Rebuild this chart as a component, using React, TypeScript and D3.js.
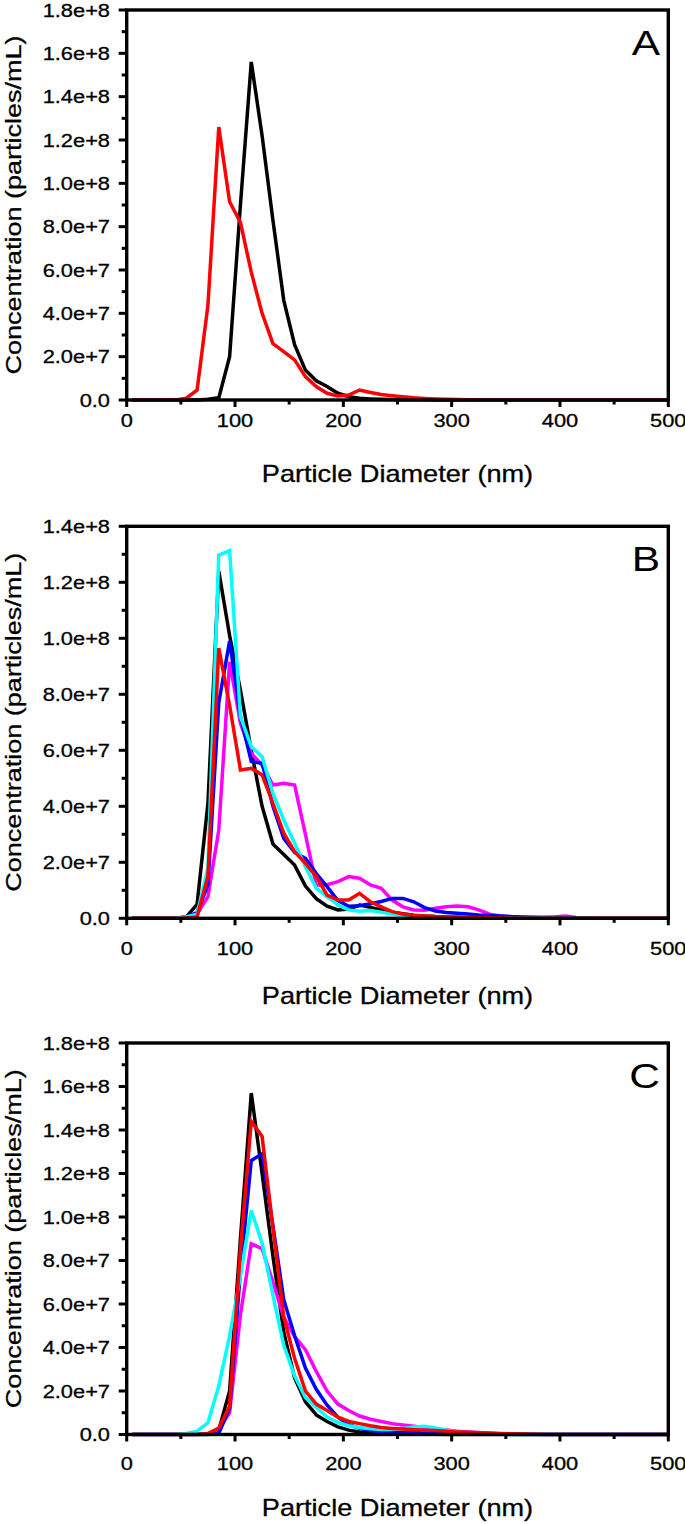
import React from 'react';
import * as d3 from 'd3';

// particle diameter bins (nm)
const bins = [5, 15, 25, 35, 45, 55, 65, 75, 85, 95, 105, 115, 125, 135, 145, 155, 165, 175, 185, 195, 205, 215, 225, 235, 245, 255, 265, 275, 285, 295, 305, 315, 325, 335, 345, 355, 365, 375, 385, 395, 405, 415, 425, 435, 445, 455, 465, 475, 485, 495, 505];

// concentrations in millions of particles/mL
const aBlack = [0, 0, 0, 0, 0, 0, 0, 0.3, 1, 20, 90, 156, 122, 83, 46, 25.5, 13.8, 8.9, 6.2, 3.1, 1.5, 0.8, 0.5, 0.3, 0.2, 0.1, 0.1, 0.1, 0.05, 0, 0, 0, 0, 0, 0, 0, 0, 0, 0, 0, 0, 0, 0, 0, 0, 0, 0, 0, 0, 0, 0];
const aRed = [0, 0, 0, 0, 0, 0.8, 4.6, 43.8, 126, 91.5, 82, 59, 40, 26, 22.3, 18.5, 10.8, 6.2, 3.1, 1.8, 2.3, 4.6, 3.5, 2.5, 2.0, 1.5, 1.0, 0.7, 0.5, 0.3, 0.2, 0.1, 0, 0, 0, 0, 0, 0, 0, 0, 0, 0, 0, 0, 0, 0, 0, 0, 0, 0, 0];

const bBlack = [0, 0, 0, 0, 0, 0.5, 5, 41, 124, 101, 81.5, 60, 40, 26.5, 22.8, 19, 11.5, 7, 4.3, 3, 3.3, 4.7, 3.9, 3, 2.2, 1.6, 1.1, 0.8, 0.6, 0.5, 0.4, 0.3, 0.2, 0.1, 0, 0, 0, 0, 0, 0, 0, 0, 0, 0, 0, 0, 0, 0, 0, 0, 0];
const bMagenta = [0, 0, 0, 0, 0, 0.3, 1.5, 7.7, 31.5, 91.6, 69.6, 58.9, 54.7, 47.6, 48.2, 47.6, 30, 11.8, 12, 13.1, 14.9, 14.3, 11.9, 10.7, 6.5, 4.1, 3, 2.9, 3.6, 4.1, 4.4, 4.1, 3, 1.5, 0.8, 0.5, 0.3, 0.3, 0.3, 0.5, 0.8, 0.3, 0.1, 0, 0, 0, 0, 0, 0, 0, 0];
const bBlue = [0, 0, 0, 0, 0, 0.5, 2, 12, 77, 99, 72, 56, 55.4, 40, 28.5, 23.5, 21.4, 16, 11.3, 6.3, 4.3, 4.5, 5.2, 6, 7.1, 7.1, 5.9, 3.8, 2.6, 2.1, 1.8, 1.5, 1.2, 1.0, 0.8, 0.6, 0.5, 0.4, 0.3, 0.3, 0.2, 0.2, 0.1, 0, 0, 0, 0, 0, 0, 0, 0];
const bCyan = [0, 0, 0, 0, 0, 0.5, 1.5, 18, 129.7, 131.3, 72, 61.3, 57.7, 44.6, 35.1, 26.8, 18.4, 10.7, 7.7, 4.75, 3, 2.5, 2.8, 2.2, 1.5, 1.0, 0.7, 0.5, 0.4, 0.3, 0.2, 0.1, 0, 0, 0, 0, 0, 0, 0, 0, 0, 0, 0, 0, 0, 0, 0, 0, 0, 0, 0];
const bRed = [0, 0, 0, 0, 0, 0, 0.5, 15, 96.5, 76, 53, 53.6, 51.2, 41, 30.4, 23.8, 19.6, 14.9, 8.3, 6.5, 6.5, 8.9, 5.9, 4.1, 2.4, 1.5, 1.0, 0.8, 0.6, 0.5, 0.4, 0.3, 0.2, 0.2, 0.1, 0, 0, 0, 0, 0, 0, 0, 0, 0, 0, 0, 0, 0, 0, 0, 0];

const cBlack = [0, 0, 0, 0, 0, 0, 0, 0, 2, 20, 90, 157, 120, 82, 47, 26, 15, 9, 6, 3.5, 2, 1.2, 0.8, 0.6, 0.4, 0.3, 0.2, 0.2, 0.1, 0, 0, 0, 0, 0, 0, 0, 0, 0, 0, 0, 0, 0, 0, 0, 0, 0, 0, 0, 0, 0, 0];
const cMagenta = [0, 0, 0, 0, 0, 0, 0, 0.5, 2.5, 10, 55, 87.7, 85.4, 70, 54, 45, 39, 29, 20, 14, 11, 8.5, 7, 6, 5, 4.4, 3.8, 3.2, 2.7, 2.1, 1.5, 1.2, 0.9, 0.7, 0.5, 0.3, 0.2, 0.1, 0, 0, 0, 0, 0, 0, 0, 0, 0, 0, 0, 0, 0];
const cBlue = [0, 0, 0, 0, 0, 0, 0, 0, 0.5, 12, 75, 126, 129, 96, 62, 45.4, 30.5, 20.8, 13.5, 8, 4.5, 2.8, 1.8, 1.3, 1, 0.9, 0.8, 0.8, 0.7, 0.6, 0.5, 0.4, 0.3, 0.2, 0.1, 0, 0, 0, 0, 0, 0, 0, 0, 0, 0, 0, 0, 0, 0, 0, 0];
const cCyan = [0, 0, 0, 0, 0, 0.5, 1.5, 5.4, 22.3, 45.4, 73, 103, 88, 64, 41, 27, 17, 12.5, 8, 5.5, 4, 3.2, 2.6, 2.3, 2.3, 2.8, 3.5, 3.8, 3.0, 2.0, 1.2, 0.7, 0.4, 0.2, 0.1, 0, 0, 0, 0, 0, 0, 0, 0, 0, 0, 0, 0, 0, 0, 0, 0];
const cRed = [0, 0, 0, 0, 0, 0, 0, 0.3, 3, 13, 85, 144, 137, 95, 54, 35, 20, 14, 11, 8, 6, 5, 4, 3.2, 2.8, 2.5, 2.2, 2, 1.8, 1.5, 1.2, 1, 0.8, 0.6, 0.4, 0.3, 0.2, 0.1, 0, 0, 0, 0, 0, 0, 0, 0, 0, 0, 0, 0, 0];

// axes
const xTicks = [0, 100, 200, 300, 400, 500];
const xMinorTicks = [50, 150, 250, 350, 450];
const yTicks18 = [0, 20, 40, 60, 80, 100, 120, 140, 160, 180];
const yLabels18 = ['0.0', '2.0e+7', '4.0e+7', '6.0e+7', '8.0e+7', '1.0e+8', '1.2e+8', '1.4e+8', '1.6e+8', '1.8e+8'];
const yMinor18 = [10, 30, 50, 70, 90, 110, 130, 150, 170];
const yTicks14 = [0, 20, 40, 60, 80, 100, 120, 140];
const yLabels14 = ['0.0', '2.0e+7', '4.0e+7', '6.0e+7', '8.0e+7', '1.0e+8', '1.2e+8', '1.4e+8'];
const yMinor14 = [10, 30, 50, 70, 90, 110, 130];

const xTitle = 'Particle Diameter (nm)';
const yTitle = 'Concentration (particles/mL)';

const COL = { black: '#000000', red: '#ff0000', blue: '#0000ff', cyan: '#00ffff', magenta: '#ff00ff' };

const panels = [
  {
    letter: 'A', top: 10, bottom: 400, yMax: 180, yTicks: yTicks18, yLabels: yLabels18, yMinor: yMinor18,
    xLabelBase: 427, titleBase: 482,
    series: [
      { color: COL.black, values: aBlack },
      { color: COL.red, values: aRed },
    ],
  },
  {
    letter: 'B', top: 526.3, bottom: 918.3, yMax: 140, yTicks: yTicks14, yLabels: yLabels14, yMinor: yMinor14,
    xLabelBase: 955, titleBase: 1004,
    series: [
      { color: COL.black, values: bBlack },
      { color: COL.magenta, values: bMagenta },
      { color: COL.blue, values: bBlue },
      { color: COL.cyan, values: bCyan },
      { color: COL.red, values: bRed },
    ],
  },
  {
    letter: 'C', top: 1043, bottom: 1434.5, yMax: 180, yTicks: yTicks18, yLabels: yLabels18, yMinor: yMinor18,
    xLabelBase: 1470, titleBase: 1516,
    series: [
      { color: COL.black, values: cBlack },
      { color: COL.magenta, values: cMagenta },
      { color: COL.blue, values: cBlue },
      { color: COL.cyan, values: cCyan },
      { color: COL.red, values: cRed },
    ],
  },
];

const LEFT = 126.7;
const RIGHT = 668.3;
const FONT = '"Liberation Sans", Arial, Helvetica, sans-serif';
const SX = 1.18;

function Panel({ p, idx }: { p: any; idx: number }) {
  const x = d3.scaleLinear().domain([0, 500]).range([LEFT, RIGHT]);
  const y = d3.scaleLinear().domain([0, p.yMax]).range([p.bottom, p.top]);
  const line = d3
    .line<number>()
    .x((_, i) => x(bins[i]))
    .y((d) => y(d));
  const clipId = `clip${idx}`;
  const midY = (p.top + p.bottom) / 2;
  return (
    <g>
      <defs>
        <clipPath id={clipId}>
          <rect x={LEFT} y={p.top - 10} width={RIGHT - LEFT} height={p.bottom - p.top + 12} />
        </clipPath>
      </defs>
      <g clipPath={`url(#${clipId})`}>
        {p.series.map((s: any, i: number) => (
          <path key={i} d={line(s.values) || ''} fill="none" stroke={s.color} strokeWidth={3.5} strokeLinejoin="miter" />
        ))}
      </g>
      <rect x={LEFT} y={p.top} width={RIGHT - LEFT} height={p.bottom - p.top} fill="none" stroke="#000" strokeWidth={3.4} />
      {p.yTicks.map((t: number, i: number) => (
        <g key={'yt' + i}>
          <line x1={LEFT - 8} x2={LEFT} y1={y(t)} y2={y(t)} stroke="#000" strokeWidth={3} />
          <text
            transform={`translate(110,${y(t) + 6.6}) scale(${SX},1)`}
            textAnchor="end"
            fontFamily={FONT}
            fontSize={18.5}
            fill="#000"
            stroke="#000"
            strokeWidth={0.3}
          >
            {p.yLabels[i]}
          </text>
        </g>
      ))}
      {p.yMinor.map((t: number, i: number) => (
        <line key={'ym' + i} x1={LEFT - 5} x2={LEFT} y1={y(t)} y2={y(t)} stroke="#000" strokeWidth={3} />
      ))}
      {xTicks.map((t, i) => (
        <g key={'xt' + i}>
          <line x1={x(t)} x2={x(t)} y1={p.bottom} y2={p.bottom + 7} stroke="#000" strokeWidth={3} />
          <text
            transform={`translate(${x(t)},${p.xLabelBase}) scale(${SX},1)`}
            textAnchor="middle"
            fontFamily={FONT}
            fontSize={18.5}
            fill="#000"
            stroke="#000"
            strokeWidth={0.3}
          >
            {t}
          </text>
        </g>
      ))}
      {xMinorTicks.map((t, i) => (
        <line key={'xm' + i} x1={x(t)} x2={x(t)} y1={p.bottom} y2={p.bottom + 4.5} stroke="#000" strokeWidth={3} />
      ))}
      <text
        transform={`translate(${(LEFT + RIGHT) / 2},${p.titleBase}) scale(${SX},1)`}
        textAnchor="middle"
        fontFamily={FONT}
        fontSize={23}
        fill="#000"
        stroke="#000"
        strokeWidth={0.3}
      >
        {xTitle}
      </text>
      <text
        transform={`translate(21,${midY}) rotate(-90) scale(1.2,1)`}
        textAnchor="middle"
        fontFamily={FONT}
        fontSize={22.5}
        fill="#000"
        stroke="#000"
        strokeWidth={0.3}
      >
        {yTitle}
      </text>
      <text
        transform={`translate(660,${p.top + 45}) scale(${SX},1)`}
        textAnchor="end"
        fontFamily={FONT}
        fontSize={36}
        fill="#000"
      >
        {p.letter}
      </text>
    </g>
  );
}

export default function App() {
  return (
    <svg
      width={685}
      height={1524}
      viewBox="0 0 685 1524"
      style={{ position: 'absolute', left: 0, top: 0, display: 'block', background: '#fff' }}
    >
      <rect x={0} y={0} width={685} height={1524} fill="#fff" />
      {panels.map((p, i) => (
        <Panel key={i} p={p} idx={i} />
      ))}
    </svg>
  );
}
